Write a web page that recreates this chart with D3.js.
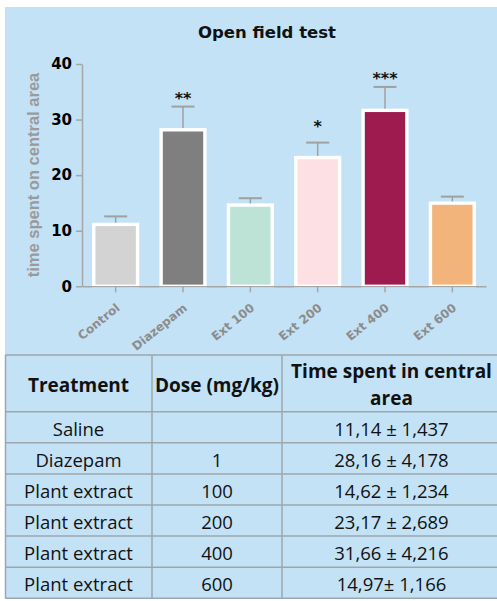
<!DOCTYPE html>
<html>
<head>
<meta charset="utf-8">
<script src="https://cdn.jsdelivr.net/npm/d3@7"></script>
<style>
  html, body { margin: 0; padding: 0; background: #ffffff; }
  svg { display: block; }
</style>
</head>
<body>
<script>
// ---- data ----
const title = "Open field test";
const yAxisTitle = "time spent on central area";
const categories = ["Control", "Diazepam", "Ext 100", "Ext 200", "Ext 400", "Ext 600"];
const means = [11.14, 28.16, 14.62, 23.17, 31.66, 14.97];
const sems = [1.437, 4.178, 1.234, 2.689, 4.216, 1.166];
const barColors = ["#d3d3d3", "#7f7f7f", "#bde2d6", "#fde0e3", "#9e1b4f", "#f2b47a"];
const stars = ["", "**", "", "*", "***", ""];
const starLevels = [null, 34.4, null, 29.4, 38.0, null];
const yTicks = [0, 10, 20, 30, 40];

const tableHeaders = ["Treatment", "Dose (mg/kg)", ["Time spent in central", "area"]];
const treatments = ["Saline", "Diazepam", "Plant extract", "Plant extract", "Plant extract", "Plant extract"];
const doses = ["", "1", "100", "200", "400", "600"];
const timeTexts = ["11,14 \u00b1 1,437", "28,16 \u00b1 4,178", "14,62 \u00b1 1,234", "23,17 \u00b1 2,689", "31,66 \u00b1 4,216", "14,97\u00b1 1,166"];

// ---- layout ----
const W = 497, H = 601;
const bg = "#c3e2f6";
const axisColor = "#a6a6a6";
const chartFont = "'DejaVu Sans', sans-serif";
const arialFont = "'Liberation Sans', Arial, sans-serif";
const tableFont = "'Open Sans', 'Noto Sans', sans-serif";

const svg = d3.select("body").append("svg").attr("width", W).attr("height", H);
svg.append("rect").attr("x", 5).attr("y", 7).attr("width", W - 5).attr("height", 592).attr("fill", bg);

// title
svg.append("text").attr("x", 267).attr("y", 37.5).attr("text-anchor", "middle")
  .attr("font-family", chartFont).attr("font-weight", "bold").attr("font-size", 16.5)
  .attr("fill", "#111").text(title);

const x = d3.scaleBand().domain(categories).range([82, 486]).paddingInner(0.35).paddingOuter(0.175);
const y = d3.scaleLinear().domain([0, 40]).range([286.3, 64]);

// bars
const g = svg.append("g");
g.selectAll("rect.bar").data(categories).join("rect").attr("class", "bar")
  .attr("x", d => x(d)).attr("width", x.bandwidth())
  .attr("y", (d, i) => y(means[i])).attr("height", (d, i) => y(0) - y(means[i]))
  .attr("fill", (d, i) => barColors[i]).attr("stroke", "#ffffff").attr("stroke-width", 3.4);

// error bars
const capW = 23;
g.selectAll("line.err").data(categories).join("line").attr("class", "err")
  .attr("x1", d => x(d) + x.bandwidth() / 2).attr("x2", d => x(d) + x.bandwidth() / 2)
  .attr("y1", (d, i) => y(means[i]) - 1.7).attr("y2", (d, i) => y(means[i] + sems[i]))
  .attr("stroke", "#a0a0a0").attr("stroke-width", 1.5);
g.selectAll("line.cap").data(categories).join("line").attr("class", "cap")
  .attr("x1", d => x(d) + x.bandwidth() / 2 - capW / 2).attr("x2", d => x(d) + x.bandwidth() / 2 + capW / 2)
  .attr("y1", (d, i) => y(means[i] + sems[i])).attr("y2", (d, i) => y(means[i] + sems[i]))
  .attr("stroke", "#a0a0a0").attr("stroke-width", 2);

// stars
g.selectAll("text.star").data(categories.filter((d, i) => stars[i])).join("text").attr("class", "star")
  .attr("x", d => x(d) + x.bandwidth() / 2)
  .attr("y", d => y(starLevels[categories.indexOf(d)]) + 9)
  .attr("text-anchor", "middle").attr("font-family", chartFont).attr("font-weight", "bold")
  .attr("font-size", 16).attr("fill", "#111")
  .text(d => stars[categories.indexOf(d)]);

// y axis
const yAxis = svg.append("g").attr("transform", "translate(82,0)")
  .call(d3.axisLeft(y).tickValues(yTicks).tickSize(6).tickSizeOuter(0).tickPadding(4));
yAxis.select(".domain").attr("stroke", axisColor).attr("stroke-width", 1.5);
yAxis.selectAll(".tick line").attr("stroke", axisColor).attr("stroke-width", 1.5);
yAxis.selectAll(".tick text").attr("font-family", chartFont).attr("font-weight", "bold")
  .attr("font-size", 15).attr("fill", "#000");

// x axis
const xAxis = svg.append("g").attr("transform", "translate(0,286.3)")
  .call(d3.axisBottom(x).tickSize(6).tickSizeOuter(0));
xAxis.select(".domain").attr("stroke", axisColor).attr("stroke-width", 1.5);
xAxis.selectAll(".tick line").attr("stroke", axisColor).attr("stroke-width", 1.5);
xAxis.selectAll(".tick text")
  .attr("font-family", chartFont).attr("font-weight", "bold").attr("font-size", 12)
  .attr("fill", "#8c8c8c").attr("text-anchor", "end")
  .attr("x", 0).attr("y", 0).attr("dy", 0)
  .attr("transform", "translate(5,23) rotate(-39)");

// y axis title
svg.append("text").attr("transform", "translate(39,175) rotate(-90)")
  .attr("text-anchor", "middle").attr("font-family", arialFont).attr("font-weight", "bold")
  .attr("font-size", 16.5).attr("fill", "#9a9a9a").text(yAxisTitle);

// ---- table ----
const tTop = 355, headH = 56.7, rowH = 31.1;
const colEdges = [5.5, 152, 282, 501];
const colCenters = [78.5, 217, 391.5];
const lineColor = "#9ea6ad";
const tg = svg.append("g");
const nRows = treatments.length;
const rowYs = d3.range(nRows + 1).map(i => tTop + headH + i * rowH);

// horizontal lines
[tTop].concat(rowYs).forEach(yy => {
  tg.append("line").attr("x1", colEdges[0]).attr("x2", W).attr("y1", yy).attr("y2", yy)
    .attr("stroke", lineColor).attr("stroke-width", 1.5);
});
// vertical lines
colEdges.slice(0, 3).forEach(xx => {
  tg.append("line").attr("x1", xx).attr("x2", xx).attr("y1", tTop).attr("y2", rowYs[nRows])
    .attr("stroke", lineColor).attr("stroke-width", 1.5);
});

// headers
tableHeaders.forEach((h, c) => {
  const lines = Array.isArray(h) ? h : [h];
  const t = tg.append("text").attr("text-anchor", "middle").attr("font-family", tableFont)
    .attr("font-weight", "bold").attr("font-size", 19).attr("fill", "#111");
  if (lines.length === 1) {
    t.attr("x", colCenters[c]).attr("y", 392).text(lines[0]);
  } else {
    lines.forEach((ln, k) => {
      t.append("tspan").attr("x", colCenters[c]).attr("y", 377.5 + k * 27).text(ln);
    });
  }
});

// rows
const cols = [treatments, doses, timeTexts];
cols.forEach((col, c) => {
  tg.selectAll("text.c" + c).data(col).join("text").attr("class", "c" + c)
    .attr("x", colCenters[c]).attr("y", (d, i) => rowYs[i] + 24)
    .attr("text-anchor", "middle").attr("font-family", tableFont)
    .attr("font-size", 18.5).attr("fill", "#111").text(d => d);
});
</script>
</body>
</html>
